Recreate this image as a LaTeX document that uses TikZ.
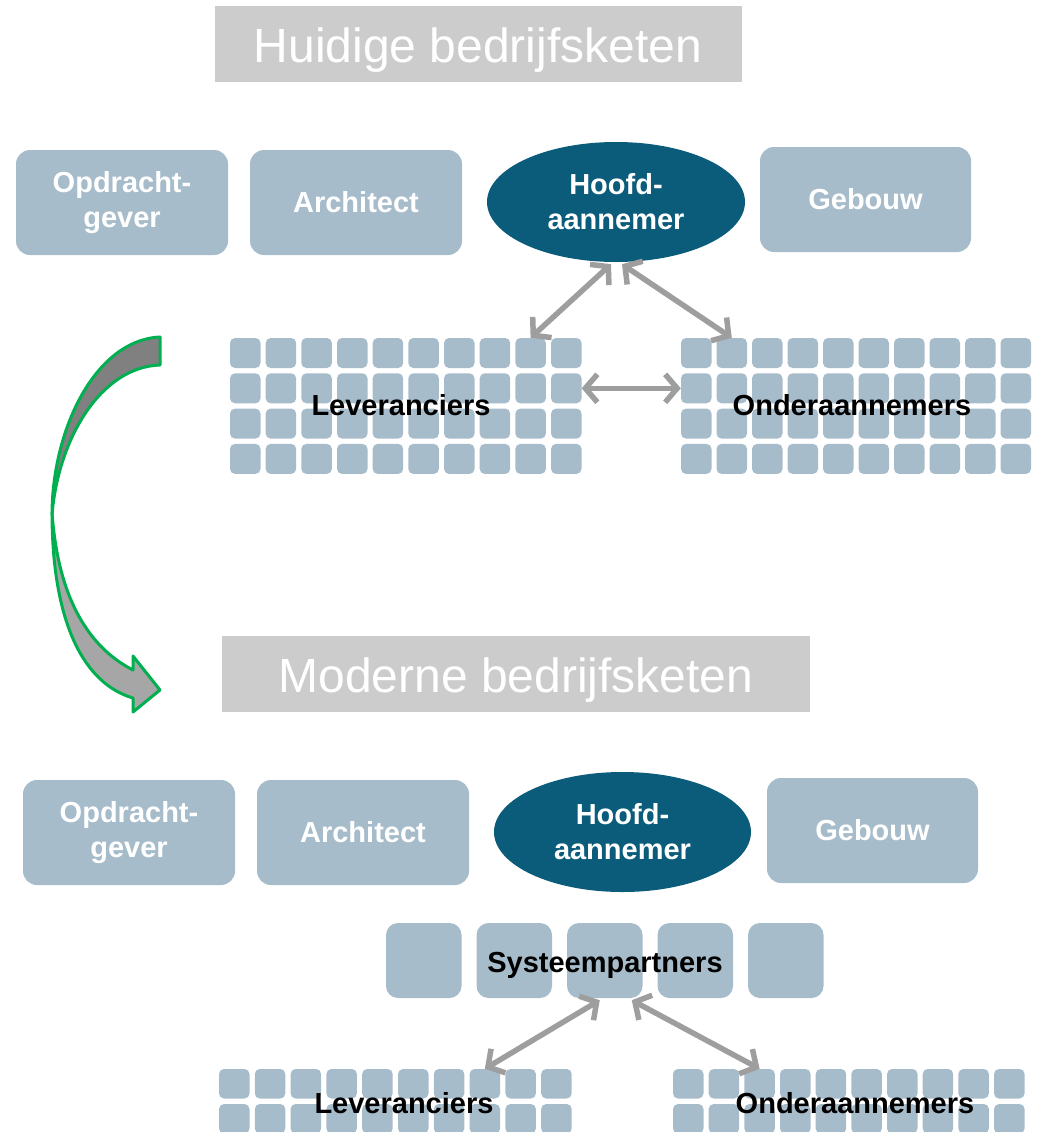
\documentclass[tikz,border=0pt]{standalone}
\usepackage{fontspec}
\setmainfont{Liberation Sans}
\usetikzlibrary{arrows.meta,shapes.geometric}
\definecolor{boxblue}{HTML}{A7BCCB}
\definecolor{navy}{HTML}{0B5C7A}
\definecolor{titlegray}{HTML}{CCCCCC}
\definecolor{arrgray}{HTML}{9E9E9E}
\definecolor{pptgreen}{HTML}{00B050}
\definecolor{darkg}{HTML}{808080}
\definecolor{lightg}{HTML}{A6A6A6}
\begin{document}
\begin{tikzpicture}[x=1pt,y=-1pt,
  box/.style={fill=boxblue, rounded corners=14pt, minimum width=212pt, minimum height=105pt,
    inner sep=0pt, text=white, font=\fontsize{29}{35}\selectfont\bfseries, align=center},
  oval/.style={ellipse, fill=navy, minimum width=258pt, minimum height=120pt, inner sep=0pt,
    text=white, font=\fontsize{29}{35}\selectfont\bfseries, align=center},
  titlebox/.style={fill=titlegray, inner sep=0pt},
  titletext/.style={anchor=base, text=white, font=\fontsize{48}{52}\selectfont, inner sep=0pt},
  cell/.style={fill=boxblue, rounded corners=5pt, minimum width=30.5pt, minimum height=30pt, inner sep=0pt},
  bigcell/.style={fill=boxblue, rounded corners=12pt, minimum width=75.5pt, minimum height=75pt, inner sep=0pt},
  grplabel/.style={anchor=base, font=\fontsize{29}{32}\selectfont\bfseries, inner sep=0pt},
  biarrow/.style={draw=arrgray, line width=5.5pt,
    {Straight Barb[length=12pt,width=28pt]}-{Straight Barb[length=12pt,width=28pt]}},
  shell/.style={draw=pptgreen, line width=3pt, line join=round}
]
\useasboundingbox (0,0) rectangle (1040,1132);
\clip (0,0) rectangle (1040,1132);

% ---------- titles ----------
\node[titlebox, minimum width=527pt, minimum height=76pt] (t1box) at (478.5,44) {};
\node[titletext] (t1) at (478,63) {Huidige bedrijfsketen};
\node[titlebox, minimum width=588pt, minimum height=76pt] (t2box) at (516,674) {};
\node[titletext] (t2) at (516,692) {Moderne bedrijfsketen};

% ---------- top row ----------
\node[box] (opd1) at (122,202.5) {Opdracht-\\gever};
\node[box] (arc1) at (356,202.5) {Architect};
\node[oval] (hfd1) at (616,202) {Hoofd-\\aannemer};
\node[box, minimum width=211pt] (geb1) at (865.5,199.5) {Gebouw};

% ---------- top grids ----------
\foreach \r in {1,...,4}{
  \foreach \c in {1,...,10}{
    \node[cell] (lt-\r-\c) at ({245.25+(\c-1)*35.67},{353+(\r-1)*35.3}) {};
    \node[cell] (ot-\r-\c) at ({696.25+(\c-1)*35.5},{353+(\r-1)*35.3}) {};
  }
}
\node[grplabel] (lev1) at (401,415) {Leveranciers};
\node[grplabel] (ond1) at (852,415) {Onderaannemers};

% ---------- top arrows ----------
\coordinate (h1l) at ([xshift=-5pt,yshift=-2pt]hfd1.south);
\coordinate (h1r) at ([xshift=6pt,yshift=-2pt]hfd1.south);
\draw[biarrow] (h1l) -- (lt-1-9.north);
\draw[biarrow] (h1r) -- (ot-1-2.north);
\draw[biarrow] (lt-2-10.east) -- (ot-2-1.west);

% ---------- curved transition arrow ----------
\path[shell, fill=darkg] (160,337) .. controls (95,340) and (52,430) .. (52,515)
   .. controls (58,440) and (100,367) .. (160,365) -- cycle;
\path[shell, fill=lightg] (52,512) .. controls (52,625) and (85,684) .. (133,698)
   -- (133,712) -- (160,690) -- (133,656) -- (133,670)
   .. controls (90,648) and (58,600) .. (52,512) -- cycle;

% ---------- bottom row ----------
\node[box] (opd2) at (129,832.5) {Opdracht-\\gever};
\node[box] (arc2) at (363,832.5) {Architect};
\node[oval, minimum width=257pt] (hfd2) at (622.5,832) {Hoofd-\\aannemer};
\node[box, minimum width=211pt] (geb2) at (872.5,830.5) {Gebouw};

% ---------- system partners ----------
\foreach \c in {1,...,5}{
  \node[bigcell] (sp\c) at ({423.75+(\c-1)*90.5},960.5) {};
}
\node[grplabel] (spl) at (605,972) {Systeempartners};

% ---------- bottom grids ----------
\foreach \r in {1,2}{
  \foreach \c in {1,...,10}{
    \node[cell, minimum height=29.5pt] (lb-\r-\c) at ({234.25+(\c-1)*35.8},{1083.75+(\r-1)*35}) {};
    \node[cell, minimum height=29.5pt] (ob-\r-\c) at ({688.25+(\c-1)*35.67},{1083.75+(\r-1)*35}) {};
  }
}
\node[grplabel] (lev2) at (404,1113) {Leveranciers};
\node[grplabel] (ond2) at (855,1113) {Onderaannemers};

% ---------- bottom arrows ----------
\coordinate (s3l) at ([xshift=-5pt,yshift=-2pt]sp3.south);
\coordinate (s3r) at ([xshift=27pt,yshift=-2pt]sp3.south);
\draw[biarrow] (s3l) -- (lb-1-8.north);
\draw[biarrow] (s3r) -- (ob-1-3.north);
\end{tikzpicture}
\end{document}
